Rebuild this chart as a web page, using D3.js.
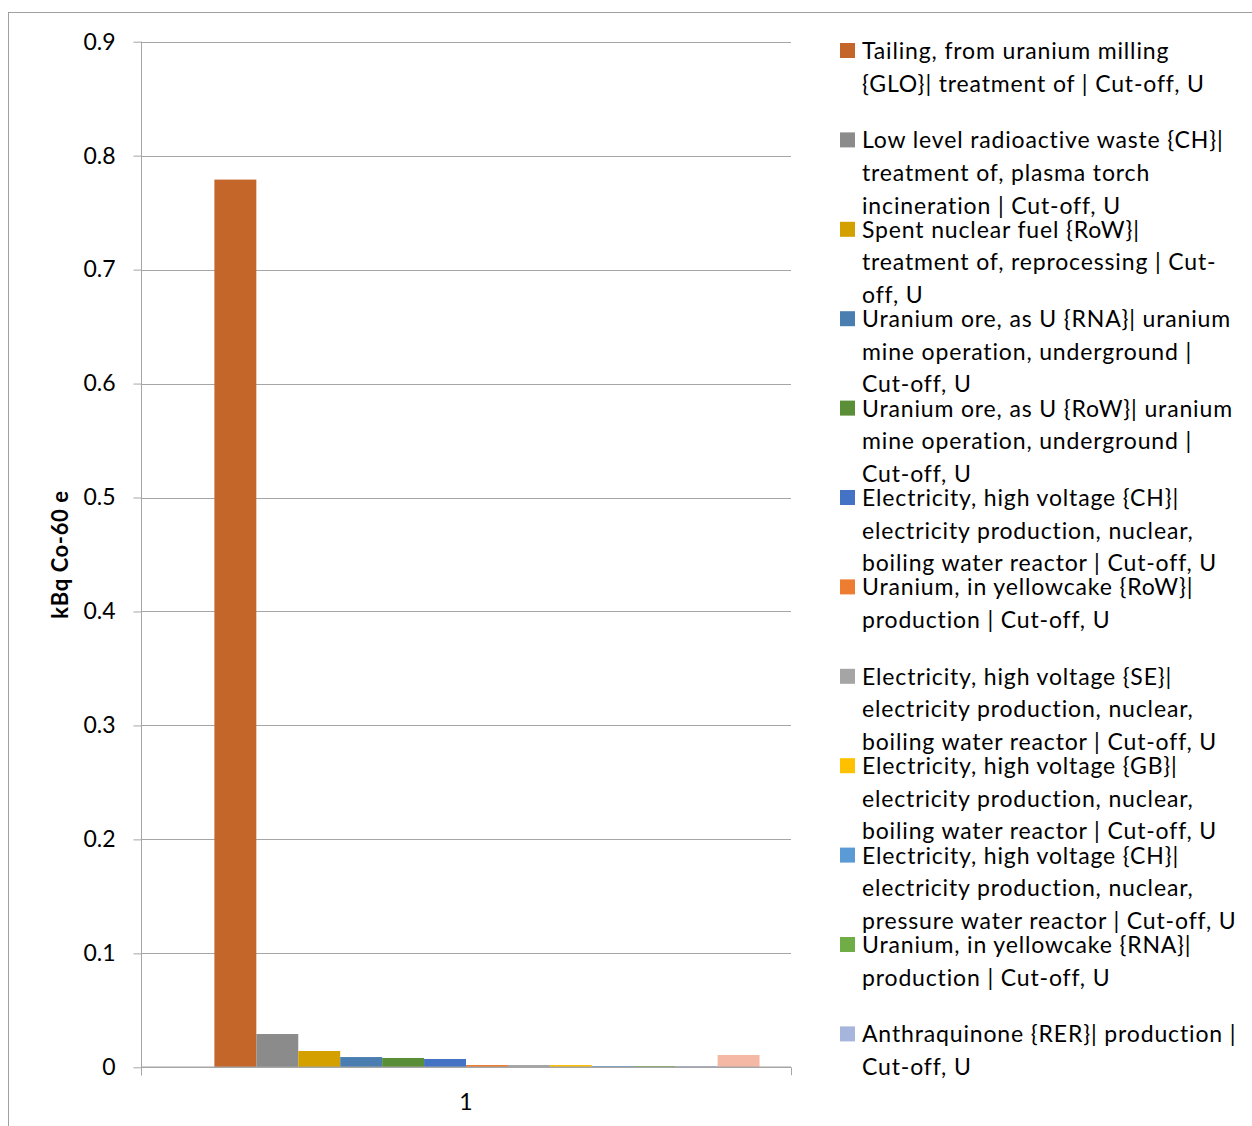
<!DOCTYPE html>
<html>
<head>
<meta charset="utf-8">
<script src="https://cdn.jsdelivr.net/npm/d3@7"></script>
<style>
  html, body { margin: 0; padding: 0; background: #fff; }
  svg { display: block; }
  text { font-family: Lato, "Open Sans", sans-serif; fill: #000; }
</style>
</head>
<body>
<svg id="chart" width="1252" height="1126"></svg>
<script>
// Contributions to ionising radiation, one bar per process
const categories = ["1"];

const seriesValues = [0.779, 0.0292, 0.0143, 0.0090, 0.0082, 0.0073,
                      0.0020, 0.0020, 0.0020, 0.0011, 0.0011, 0.0011, 0.0108];

const seriesColors = ["#C4662A", "#8B8B8B", "#D3A000", "#4A7EB0", "#5A8E37", "#4472C4",
                      "#ED7D31", "#A5A5A5", "#FFC000", "#5B9BD5", "#70AD47", "#A6B5DB", "#F4B8A5"];

const legendLabels = [
  ["Tailing, from uranium milling", "{GLO}| treatment of | Cut-off, U"],
  ["Low level radioactive waste {CH}|", "treatment of, plasma torch", "incineration | Cut-off, U"],
  ["Spent nuclear fuel {RoW}|", "treatment of, reprocessing | Cut-", "off, U"],
  ["Uranium ore, as U {RNA}| uranium", "mine operation, underground |", "Cut-off, U"],
  ["Uranium ore, as U {RoW}| uranium", "mine operation, underground |", "Cut-off, U"],
  ["Electricity, high voltage {CH}|", "electricity production, nuclear,", "boiling water reactor | Cut-off, U"],
  ["Uranium, in yellowcake {RoW}|", "production | Cut-off, U"],
  ["Electricity, high voltage {SE}|", "electricity production, nuclear,", "boiling water reactor | Cut-off, U"],
  ["Electricity, high voltage {GB}|", "electricity production, nuclear,", "boiling water reactor | Cut-off, U"],
  ["Electricity, high voltage {CH}|", "electricity production, nuclear,", "pressure water reactor | Cut-off, U"],
  ["Uranium, in yellowcake {RNA}|", "production | Cut-off, U"],
  ["Anthraquinone {RER}| production |", "Cut-off, U"]
];

const yTicks = [0, 0.1, 0.2, 0.3, 0.4, 0.5, 0.6, 0.7, 0.8, 0.9];
const yTitle = "kBq Co-60 e";

const svg = d3.select("#chart");
const plot = { left: 141, right: 791, top: 41.7, bottom: 1067.3 };
const gridColor = "#A6A6A6";

// outer frame
svg.append("rect")
  .attr("x", 8.5).attr("y", 12.5)
  .attr("width", 1400).attr("height", 1300)
  .attr("fill", "none").attr("stroke", "#A0A0A0").attr("stroke-width", 1);

const y = d3.scaleLinear().domain([0, 0.9]).range([plot.bottom, plot.top]);
const x = d3.scaleBand().domain(categories).range([plot.left, plot.right]);

// gridlines
svg.append("g").selectAll("line").data(yTicks.filter(t => t > 0)).join("line")
  .attr("x1", plot.left).attr("x2", plot.right)
  .attr("y1", d => Math.round(y(d)) + 0.5).attr("y2", d => Math.round(y(d)) + 0.5)
  .attr("stroke", gridColor).attr("stroke-width", 1);

// y axis
const yAxis = d3.axisLeft(y).tickValues(yTicks).tickSize(8).tickPadding(18)
  .tickFormat(d => d === 0 ? "0" : d3.format(".1f")(d));
const gy = svg.append("g").attr("transform", `translate(${plot.left + 0.5},0)`).call(yAxis);
gy.select(".domain").attr("stroke", gridColor).attr("d", `M0,${plot.top}V${plot.bottom + 8}`);
gy.selectAll(".tick line").attr("stroke", gridColor);
gy.selectAll(".tick text").attr("font-size", 23).attr("font-family", "Lato, sans-serif").attr("fill", "#000");

// bars: one band per series inside the category
const barWidth = x.bandwidth() / 15.5;
const catCenter = x(categories[0]) + x.bandwidth() / 2;
const xs = d3.scaleBand().domain(d3.range(seriesValues.length))
  .range([catCenter - 6 * barWidth, catCenter + (seriesValues.length - 6) * barWidth]);

svg.append("g").selectAll("rect").data(seriesValues).join("rect")
  .attr("x", (d, i) => xs(i)).attr("width", xs.bandwidth())
  .attr("y", d => y(d)).attr("height", d => y(0) - y(d))
  .attr("fill", (d, i) => seriesColors[i]);

// x axis
const xAxis = d3.axisBottom(x).tickSize(0).tickPadding(26);
const gx = svg.append("g").attr("transform", `translate(0,${plot.bottom})`).call(xAxis);
gx.select(".domain").attr("stroke", gridColor).attr("stroke-width", 1.5)
  .attr("d", `M${plot.left},0H${plot.right}`);
gx.selectAll(".tick text").attr("font-size", 23).attr("font-family", "Lato, sans-serif").attr("fill", "#000");
svg.append("g").selectAll("line").data([plot.left, plot.right]).join("line")
  .attr("x1", d => d + 0.5).attr("x2", d => d + 0.5)
  .attr("y1", plot.bottom).attr("y2", plot.bottom + 8)
  .attr("stroke", gridColor);

// y axis title
svg.append("text")
  .attr("transform", `translate(68,${(plot.top + plot.bottom) / 2}) rotate(-90)`)
  .attr("text-anchor", "middle")
  .attr("font-size", 22).attr("font-weight", "bold").attr("letter-spacing", 0.6)
  .text(yTitle);

// legend
const legend = svg.append("g");
const entryStep = 89.4, lineStep = 32.6, legendTop = 51;
legendLabels.forEach((lines, i) => {
  const g = legend.append("g").attr("transform", `translate(840,${legendTop + i * entryStep})`);
  g.append("rect").attr("x", 0).attr("y", -8).attr("width", 15).attr("height", 15)
    .attr("fill", seriesColors[i]);
  g.selectAll("text").data(lines).join("text")
    .attr("x", 22).attr("y", (d, j) => 8 + j * lineStep)
    .attr("font-size", 23).attr("letter-spacing", 0.85)
    .text(d => d);
});
</script>
</body>
</html>
